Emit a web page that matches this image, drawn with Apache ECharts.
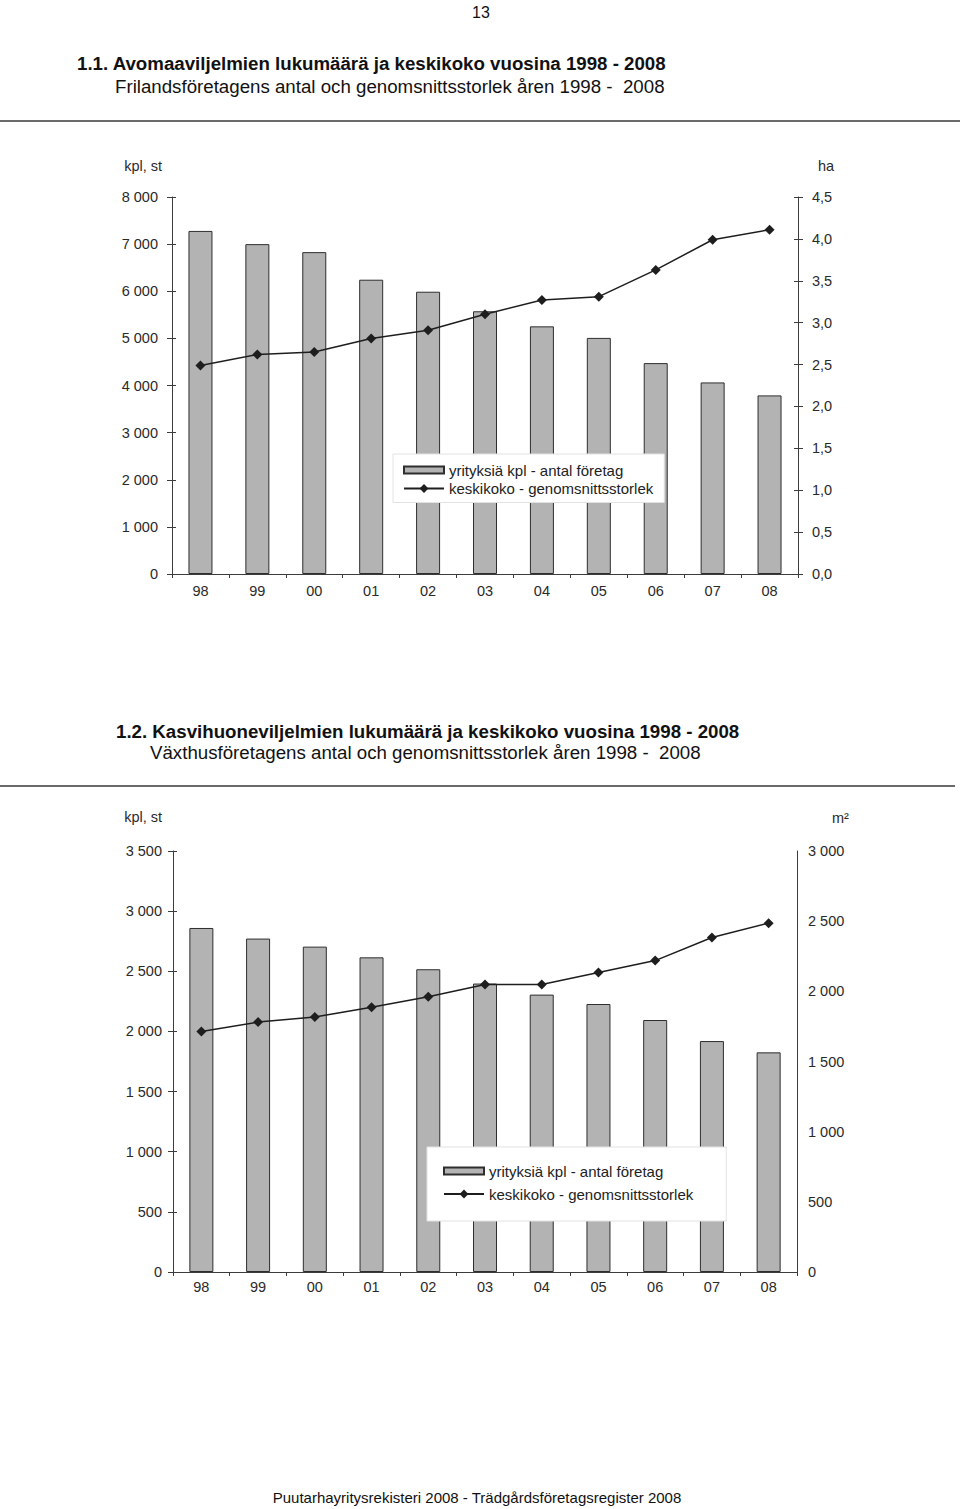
<!DOCTYPE html>
<html>
<head>
<meta charset="utf-8">
<script src="https://cdn.jsdelivr.net/npm/echarts@6/dist/echarts.min.js"></script>
<style>
html,body{margin:0;padding:0;background:#fff;}
#c{width:960px;height:1509px;}
</style>
</head>
<body>
<div id="c"></div>
<script>
// ---- data ----
const years = ['98','99','00','01','02','03','04','05','06','07','08'];
// Chart 1.1 open field
const openCount = [7280, 7000, 6830, 6245, 5990, 5575, 5255, 5010, 4475, 4065, 3790];
const openAvgHa = [2.49, 2.62, 2.65, 2.81, 2.91, 3.10, 3.27, 3.31, 3.63, 3.99, 4.11];
// Chart 1.2 greenhouse
const ghCount = [2860, 2772, 2705, 2616, 2517, 2398, 2306, 2228, 2095, 1920, 1826];
const ghAvgM2 = [1714, 1781, 1817, 1886, 1962, 2048, 2048, 2134, 2219, 2384, 2486];

const barName = 'yrityksiä kpl - antal företag';
const lineName = 'keskikoko - genomsnittsstorlek';

const FONT = '"Liberation Sans", Arial, Helvetica, sans-serif';
const axisColor = '#3c3c3c';
const labelColor = '#2a2a2a';

function thousands(v){ return String(v).replace(/\B(?=(\d{3})+(?!\d))/g, ' '); }
function comma1(v){ return v.toFixed(1).replace('.', ','); }

function yAx(grid, pos, max, interval, fmt, name, nameGap, namePad, labelMargin, ticks){
  return {
    type:'value', gridIndex:grid, position:pos, min:0, max:max, interval:interval,
    name:name, nameLocation:'end', nameGap:nameGap,
    nameTextStyle:{color:labelColor, fontSize:14.5, fontFamily:FONT,
      align: pos==='left' ? 'right' : 'left', padding:namePad},
    axisLine:{show:true, lineStyle:{color:axisColor, width:1}},
    axisTick:{show:ticks, length:5, lineStyle:{color:axisColor}},
    splitLine:{show:false},
    axisLabel:{formatter:fmt, color:labelColor, fontSize:14.5, fontFamily:FONT, margin:labelMargin}
  };
}
// companion axis that only draws the inner half of the crossing tick marks
function yInner(grid, pos, max, interval){
  return {
    type:'value', gridIndex:grid, position:pos, min:0, max:max, interval:interval,
    axisLine:{show:false}, axisLabel:{show:false}, splitLine:{show:false},
    axisTick:{show:true, inside:true, length:4, lineStyle:{color:axisColor}}
  };
}
function xAx(grid, margin){
  return {
    type:'category', gridIndex:grid, data:years,
    axisLine:{lineStyle:{color:axisColor, width:1}},
    axisTick:{show:true, length:4, lineStyle:{color:axisColor}},
    axisLabel:{color:labelColor, fontSize:14.5, fontFamily:FONT, margin:margin}
  };
}
function xInner(grid){
  return {
    type:'category', gridIndex:grid, data:years,
    axisLine:{show:false}, axisLabel:{show:false},
    axisTick:{show:true, inside:true, length:4, lineStyle:{color:axisColor}}
  };
}
const barStyle = {color:'#b3b3b3', borderColor:'#2e2e2e', borderWidth:1};
const lineStyle = {color:'#1e1e1e', width:1.5};

function legendAt(left, top, padding, gap){
  return {
    orient:'vertical', left:left, top:top, padding:padding, itemGap:gap,
    itemWidth:40, itemHeight:11,
    backgroundColor:'#fff', borderColor:'#e2e2e2', borderWidth:1,
    textStyle:{fontSize:15, fontFamily:FONT, color:'#222', lineHeight:16},
    selectedMode:false,
    data:[{name:barName, icon:'path://M0,0H40V7H0Z'}, {name:lineName}]
  };
}

const option = {
  animation:false,
  backgroundColor:'#fff',
  grid:[
    {left:172, top:197, width:626, height:377},
    {left:173, top:851, width:624, height:421}
  ],
  xAxis:[xAx(0, 9), xAx(1, 7), xInner(0), xInner(1)],
  yAxis:[
    yAx(0,'left',8000,1000,thousands,'kpl, st',24,[0,10,0,0],14,true),
    yAx(0,'right',4.5,0.5,comma1,'ha',24,[0,0,0,20],14,true),
    yAx(1,'left',3500,500,thousands,'kpl, st',27,[0,11,0,0],11,true),
    yAx(1,'right',3000,500,thousands,'m²',26,[0,0,0,35],11,false),
    yInner(0,'left',8000,1000),
    yInner(0,'right',4.5,0.5),
    yInner(1,'left',3500,500)
  ],
  legend:[
    legendAt(393, 454, [8,11,6,10], 2.5),
    legendAt(427, 1147, [16,33,19,16], 7)
  ],
  series:[
    {name:barName, type:'bar', xAxisIndex:0, yAxisIndex:0, data:openCount, barWidth:24, itemStyle:barStyle, z:2},
    {name:lineName, type:'line', xAxisIndex:0, yAxisIndex:1, data:openAvgHa, symbol:'diamond', symbolSize:10,
      itemStyle:{color:'#1e1e1e'}, lineStyle:lineStyle, z:3},
    {name:barName, type:'bar', xAxisIndex:1, yAxisIndex:2, data:ghCount, barWidth:24, itemStyle:barStyle, z:2},
    {name:lineName, type:'line', xAxisIndex:1, yAxisIndex:3, data:ghAvgM2, symbol:'diamond', symbolSize:10,
      itemStyle:{color:'#1e1e1e'}, lineStyle:lineStyle, z:3}
  ],
  graphic:[
    {type:'text', x:481, y:12, style:{text:'13', font:'16px '+FONT, fill:'#111', textAlign:'center', textVerticalAlign:'middle'}},
    {type:'text', x:77, y:63, style:{text:'1.1. Avomaaviljelmien lukumäärä ja keskikoko vuosina 1998 - 2008', font:'bold 18.7px '+FONT, fill:'#111', textVerticalAlign:'middle'}},
    {type:'text', x:115, y:86, style:{text:'Frilandsföretagens antal och genomsnittsstorlek åren 1998 -  2008', font:'18.7px '+FONT, fill:'#111', textVerticalAlign:'middle'}},
    {type:'line', shape:{x1:0, y1:121, x2:960, y2:121}, style:{stroke:'#6a6a6a', lineWidth:2}},
    {type:'text', x:116, y:731, style:{text:'1.2. Kasvihuoneviljelmien lukumäärä ja keskikoko vuosina 1998 - 2008', font:'bold 18.7px '+FONT, fill:'#111', textVerticalAlign:'middle'}},
    {type:'text', x:150, y:752, style:{text:'Växthusföretagens antal och genomsnittsstorlek åren 1998 -  2008', font:'18.7px '+FONT, fill:'#111', textVerticalAlign:'middle'}},
    {type:'line', shape:{x1:0, y1:786, x2:955, y2:786}, style:{stroke:'#6a6a6a', lineWidth:2}},
    {type:'text', x:477, y:1497, style:{text:'Puutarhayritysrekisteri 2008 - Trädgårdsföretagsregister 2008', font:'15px '+FONT, fill:'#111', textAlign:'center', textVerticalAlign:'middle'}}
  ]
};

const chart = echarts.init(document.getElementById('c'), null, {renderer:'svg', width:960, height:1509});
chart.setOption(option);
</script>
</body>
</html>
